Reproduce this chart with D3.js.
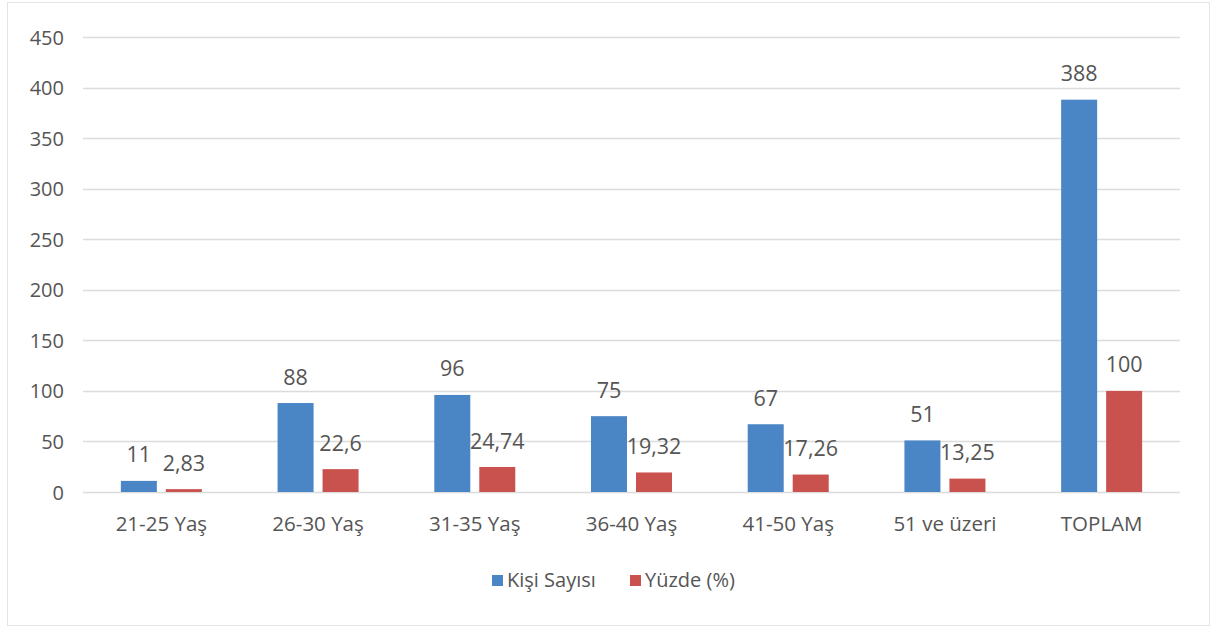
<!DOCTYPE html>
<html>
<head>
<meta charset="utf-8">
<script src="https://cdn.jsdelivr.net/npm/d3@7"></script>
<style>
  html, body { margin: 0; padding: 0; background: #fff; }
  svg { display: block; }
  text { font-family: "Open Sans", sans-serif; fill: #555555; }
</style>
</head>
<body>
<svg id="chart" width="1211" height="628"></svg>
<script>
// Age groups and their values
const categories = ["21-25 Yaş", "26-30 Yaş", "31-35 Yaş", "36-40 Yaş", "41-50 Yaş", "51 ve üzeri", "TOPLAM"];
const kisiSayisi = [11, 88, 96, 75, 67, 51, 388];
const yuzde = [2.83, 22.6, 24.74, 19.32, 17.26, 13.25, 100];
const kisiLabels = ["11", "88", "96", "75", "67", "51", "388"];
const yuzdeLabels = ["2,83", "22,6", "24,74", "19,32", "17,26", "13,25", "100"];
const yTicks = [0, 50, 100, 150, 200, 250, 300, 350, 400, 450];
const seriesNames = ["Kişi Sayısı", "Yüzde (%)"];
const colors = ["#4a85c6", "#c9514e"];

const svg = d3.select("#chart");
const W = 1211, H = 628;

// outer frame
svg.append("rect")
  .attr("x", 7.5).attr("y", 2.5)
  .attr("width", W - 9).attr("height", H - 5)
  .attr("fill", "#fff").attr("stroke", "#e4e4e4").attr("stroke-width", 1);

const plot = { left: 83, right: 1180, top: 37, bottom: 492 };

const x = d3.scaleBand().domain(categories).range([plot.left, plot.right]).padding(0);
const y = d3.scaleLinear().domain([0, 450]).range([plot.bottom, plot.top]);

const barW = 36, gap = 9;
const groupW = barW * 2 + gap;

// grid lines
svg.append("g").selectAll("line").data(yTicks).join("line")
  .attr("x1", plot.left).attr("x2", plot.right)
  .attr("y1", d => Math.round(y(d)) + 0.5).attr("y2", d => Math.round(y(d)) + 0.5)
  .attr("stroke", "#dcdcdc").attr("stroke-width", 1.5);

// y axis labels
const yAxis = d3.axisLeft(y).tickValues(yTicks).tickSize(0).tickPadding(0);
const yg = svg.append("g").attr("transform", `translate(64,0)`).call(yAxis);
yg.select(".domain").remove();
yg.selectAll("text").attr("font-size", 20).attr("fill", "#555555").attr("dy", "0.35em")
  .style("font-family", "'Open Sans', sans-serif");

// x axis labels
const xAxis = d3.axisBottom(x).tickSize(0).tickPadding(0);
const xg = svg.append("g").attr("transform", `translate(0,${plot.bottom})`).call(xAxis);
xg.select(".domain").remove();
xg.selectAll("text").attr("font-size", 20.5).attr("fill", "#555555").attr("y", 32).attr("dy", "0.35em")
  .style("font-family", "'Open Sans', sans-serif");

// bars with value labels
const series = [kisiSayisi, yuzde];
const labels = [kisiLabels, yuzdeLabels];
series.forEach((vals, s) => {
  const g = svg.append("g");
  const offset = s === 0 ? 0 : barW + gap;
  g.selectAll("rect").data(vals).join("rect")
    .attr("x", (d, i) => x(categories[i]) + x.bandwidth() / 2 - groupW / 2 + offset)
    .attr("width", barW)
    .attr("y", d => y(d))
    .attr("height", d => y(0) - y(d))
    .attr("fill", colors[s]);
  g.selectAll("text").data(vals).join("text")
    .attr("x", (d, i) => x(categories[i]) + x.bandwidth() / 2 - groupW / 2 + offset + barW / 2)
    .attr("y", d => y(d) - 26)
    .attr("dy", "0.35em")
    .attr("text-anchor", "middle")
    .attr("font-size", 21.5)
    .text((d, i) => labels[s][i]);
});

// legend
const legend = svg.append("g");
const legendItems = [{ x: 492, name: seriesNames[0], c: colors[0] }, { x: 630, name: seriesNames[1], c: colors[1] }];
legendItems.forEach(it => {
  legend.append("rect").attr("x", it.x).attr("y", 575).attr("width", 11).attr("height", 11).attr("fill", it.c);
  legend.append("text").attr("x", it.x + 15).attr("y", 580).attr("dy", "0.35em")
    .attr("font-size", 20).text(it.name);
});
</script>
</body>
</html>
